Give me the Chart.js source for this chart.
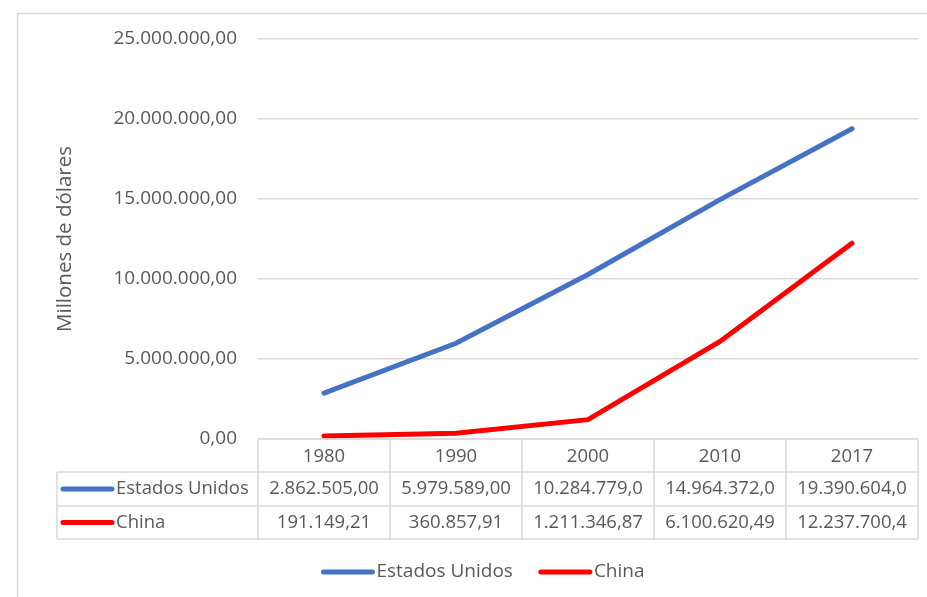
<!DOCTYPE html>
<html>
<head>
<meta charset="utf-8">
<script src="https://cdn.jsdelivr.net/npm/chart.js@4/dist/chart.umd.min.js"></script>
<style>
  html, body { margin: 0; padding: 0; background: #fff; }
  #wrap { width: 927px; height: 597px; }
</style>
</head>
<body>
<div id="wrap"><canvas id="myChart" width="927" height="597"></canvas></div>
<script>
// data
var years = ['1980', '1990', '2000', '2010', '2017'];
var usValues = [2862505.00, 5979589.00, 10284779.0, 14964372.0, 19390604.0];
var chinaValues = [191149.21, 360857.91, 1211346.87, 6100620.49, 12237700.4];
// the table shows truncated text for some cells
var usCells = ['2.862.505,00', '5.979.589,00', '10.284.779,0', '14.964.372,0', '19.390.604,0'];
var chinaCells = ['191.149,21', '360.857,91', '1.211.346,87', '6.100.620,49', '12.237.700,4'];
var yTicks = [0, 5000000, 10000000, 15000000, 20000000, 25000000];

var FONT = "'Open Sans', sans-serif";
var TEXT = '#595959';
var LINE = '#d9d9d9';
var BLUE = '#4472C4';
var RED = '#FF0000';

function fmt(v) {
  return v.toLocaleString('de-DE', { minimumFractionDigits: 2, maximumFractionDigits: 2 });
}

function swatch(ctx, x1, x2, y, color) {
  ctx.save();
  ctx.strokeStyle = color;
  ctx.lineWidth = 5;
  ctx.lineCap = 'round';
  ctx.beginPath();
  ctx.moveTo(x1, y);
  ctx.lineTo(x2, y);
  ctx.stroke();
  ctx.restore();
}

// outer frame, data table under the plot and the legend
var tablePlugin = {
  id: 'tablePlugin',
  afterDraw: function(chart) {
    var ctx = chart.ctx;
    var xs = chart.scales.x;
    var area = chart.chartArea;
    var step = xs.getPixelForValue(1) - xs.getPixelForValue(0);
    var left = xs.getPixelForValue(0) - step / 2;
    var right = xs.getPixelForValue(years.length - 1) + step / 2;
    var rows = [area.bottom, 472, 506, 539];
    var labelLeft = 57;

    ctx.save();
    ctx.strokeStyle = LINE;
    ctx.lineWidth = 1.5;
    // frame
    ctx.strokeRect(17.5, 13.5, 930, 600);

    // horizontal lines
    ctx.beginPath();
    ctx.moveTo(left, rows[0]); ctx.lineTo(right, rows[0]);
    for (var r = 1; r < rows.length; r++) {
      ctx.moveTo(labelLeft, rows[r]); ctx.lineTo(right, rows[r]);
    }
    // vertical lines
    ctx.moveTo(labelLeft, rows[1]); ctx.lineTo(labelLeft, rows[3]);
    for (var i = 0; i <= years.length; i++) {
      var x = left + i * step;
      ctx.moveTo(x, rows[0]); ctx.lineTo(x, rows[3]);
    }
    ctx.stroke();

    ctx.fillStyle = TEXT;
    ctx.font = '18.5px ' + FONT;
    ctx.textBaseline = 'middle';
    ctx.textAlign = 'center';
    for (var j = 0; j < years.length; j++) {
      var cx = xs.getPixelForValue(j);
      ctx.fillText(years[j], cx, (rows[0] + rows[1]) / 2 + 1);
      ctx.fillText(usCells[j], cx, (rows[1] + rows[2]) / 2);
      ctx.fillText(chinaCells[j], cx, (rows[2] + rows[3]) / 2);
    }

    ctx.textAlign = 'left';
    var names = chart.data.datasets.map(function(d) { return d.label; });
    var colors = chart.data.datasets.map(function(d) { return d.borderColor; });
    for (var k = 0; k < names.length; k++) {
      var cy = (rows[k + 1] + rows[k + 2]) / 2;
      swatch(ctx, 63, 112, cy, colors[k]);
      ctx.fillText(names[k], 116, cy);
    }

    // legend
    ctx.font = '19px ' + FONT;
    var ly = 572;
    var widths = names.map(function(n) { return ctx.measureText(n).width; });
    var total = 0;
    for (var m = 0; m < names.length; m++) total += 53 + 2 + widths[m] + (m ? 26 : 0);
    var lx = 483 - total / 2;
    for (var n = 0; n < names.length; n++) {
      swatch(ctx, lx + 2, lx + 51, ly, colors[n]);
      ctx.fillText(names[n], lx + 55, ly);
      lx += 55 + widths[n] + 26;
    }
    ctx.restore();
  }
};

var ctx = document.getElementById('myChart').getContext('2d');
var chart = new Chart(ctx, {
  type: 'line',
  data: {
    labels: years,
    datasets: [{
      label: 'Estados Unidos',
      data: usValues,
      borderColor: BLUE,
      backgroundColor: BLUE,
      borderWidth: 5,
      borderCapStyle: 'round',
      pointRadius: 0,
      tension: 0
    }, {
      label: 'China',
      data: chinaValues,
      borderColor: RED,
      backgroundColor: RED,
      borderWidth: 5,
      borderCapStyle: 'round',
      pointRadius: 0,
      tension: 0
    }]
  },
  options: {
    responsive: false,
    animation: false,
    layout: { padding: { left: 0, right: 9, top: 39, bottom: 158 } },
    plugins: {
      legend: { display: false },
      tooltip: { enabled: false }
    },
    scales: {
      x: {
        display: false,
        offset: true
      },
      y: {
        min: 0,
        max: 25000000,
        afterFit: function(scale) { scale.width = 258; },
        afterBuildTicks: function(scale) {
          scale.ticks = yTicks.map(function(v) { return { value: v }; });
        },
        border: { display: false },
        grid: { color: LINE, lineWidth: 1.5, drawTicks: false },
        ticks: {
          padding: 21,
          color: TEXT,
          font: { family: FONT, size: 19 },
          callback: function(v) { return fmt(v); }
        },
        title: {
          display: true,
          text: 'Millones de dólares',
          color: TEXT,
          font: { family: FONT, size: 20.5 },
          padding: { top: 53 }
        }
      }
    }
  },
  plugins: [tablePlugin]
});
</script>
</body>
</html>
